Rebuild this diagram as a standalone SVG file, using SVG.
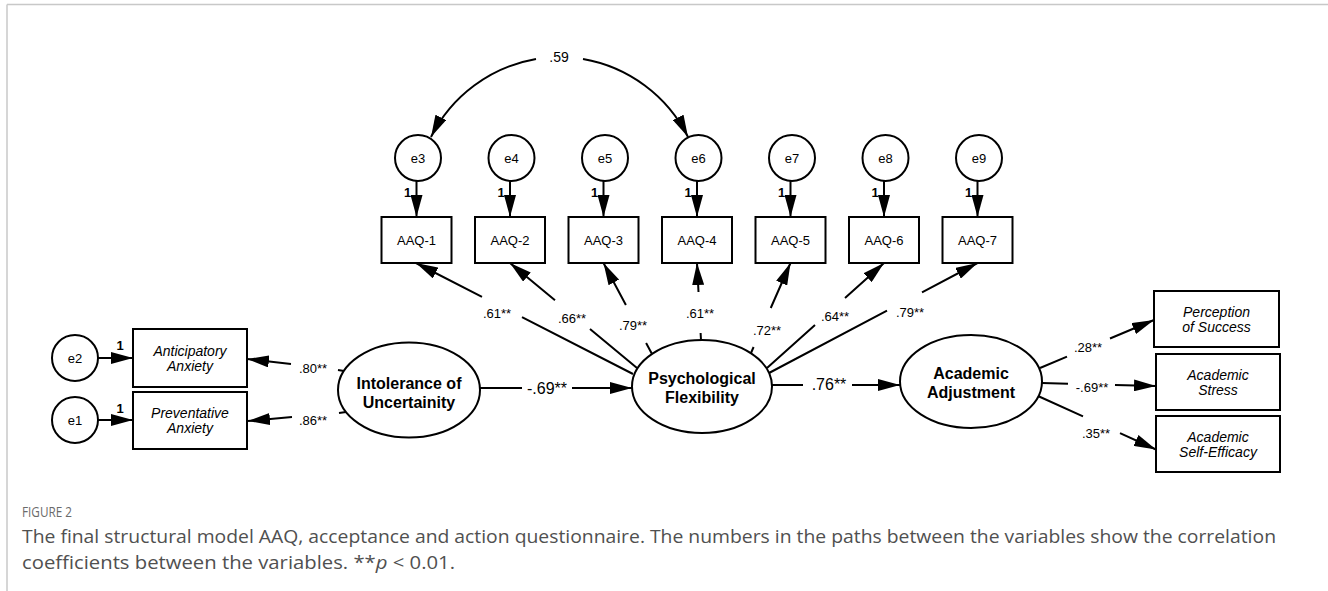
<svg xmlns="http://www.w3.org/2000/svg" width="1328" height="591" viewBox="0 0 1328 591">
<defs>
<marker id="ah" markerWidth="22" markerHeight="12" refX="22" refY="6" orient="auto" markerUnits="userSpaceOnUse"><path d="M0,0 L22,6 L0,12 Z" fill="#000"/></marker>
<style>
.node{fill:#fff;stroke:#000;stroke-width:2}
.ln{fill:none;stroke:#000;stroke-width:2}
.arr{fill:none;stroke:#000;stroke-width:2;marker-end:url(#ah)}
.t{font-family:"Liberation Sans",Arial,sans-serif;fill:#000;text-anchor:middle}
.e{font-size:13px}
.one{font-size:13px;font-weight:bold}
.box{font-size:13px}
.ind{font-size:14px;font-style:italic}
.lat{font-size:16px;font-weight:bold}
.lab{font-size:13px}
.slab{font-size:16px}
.cap{font-family:"Open Sans","Noto Sans",sans-serif;fill:#505050}
</style>
</defs>
<rect width="1328" height="591" fill="#fff"/>
<g id="frame" stroke="#c8c8c8" stroke-width="1.5" fill="none">
<line x1="7" y1="4.5" x2="1328" y2="4.5"/>
<line x1="7" y1="4.5" x2="7" y2="591"/>
</g>
<g id="connectors">
<path class="arr" d="M536,59 A145 145 0 0 0 431,137"/>
<path class="arr" d="M583,59 A145 145 0 0 1 688,137"/>
<path class="arr" d="M416.5,181 V217"/>
<path class="arr" d="M510,181 V217"/>
<path class="arr" d="M603.5,181 V217"/>
<path class="arr" d="M697,181 V217"/>
<path class="arr" d="M790.5,181 V217"/>
<path class="arr" d="M884,181 V217"/>
<path class="arr" d="M977.5,181 V217"/>
<path class="arr" d="M633,374 L522,317.2 M482,296.8 L416,263"/>
<path class="arr" d="M637,368 L590,329.1 M555,300.2 L510,263"/>
<path class="arr" d="M652,354 L646.1,343 M625.9,305 L603.5,263"/>
<path class="arr" d="M701,340 L700.6,333 M698.5,292 L697,263"/>
<path class="arr" d="M751,353 L753.6,347 M770.75,308 L790.5,263"/>
<path class="arr" d="M767,368 L815,325 M845,298 L884,263"/>
<path class="arr" d="M769,373 L887,310.7 M922,292.3 L977.5,263"/>
<path class="arr" d="M98,358 H133"/>
<path class="arr" d="M98,420 H133"/>
<path class="arr" d="M344,371 L338,370 M291,364 L247,359"/>
<path class="arr" d="M346,412 L339,413 M292,417 L248,421"/>
<path class="arr" d="M480,388 H522 M572,388 H632"/>
<path class="arr" d="M772,385 H803 M852,385 H900"/>
<path class="arr" d="M1040,368 L1067,356.6 M1110,338.5 L1154,320"/>
<path class="arr" d="M1042,383 L1068,383.7 M1115,384.9 L1156,386"/>
<path class="arr" d="M1038,396 L1083,416.4 M1120,433.2 L1156,449.5"/>
<text class="t e" x="559" y="62" style="font-size:14px">.59</text>
<text class="t one" x="407.5" y="197">1</text>
<text class="t one" x="501" y="197">1</text>
<text class="t one" x="594.5" y="197">1</text>
<text class="t one" x="688" y="197">1</text>
<text class="t one" x="781.5" y="197">1</text>
<text class="t one" x="875" y="197">1</text>
<text class="t one" x="968.5" y="197">1</text>
<text class="t one" x="120" y="350">1</text>
<text class="t one" x="120" y="413">1</text>
<text class="t lab" x="497" y="317.5">.61**</text>
<text class="t lab" x="572" y="322.5">.66**</text>
<text class="t lab" x="633" y="329.5">.79**</text>
<text class="t lab" x="700" y="317.5">.61**</text>
<text class="t lab" x="767" y="334.5">.72**</text>
<text class="t lab" x="835" y="321">.64**</text>
<text class="t lab" x="910" y="316.5">.79**</text>
<text class="t lab" x="313" y="372.5">.80**</text>
<text class="t lab" x="313" y="424.5">.86**</text>
<text class="t slab" x="547" y="394">-.69**</text>
<text class="t slab" x="829" y="390">.76**</text>
<text class="t lab" x="1088" y="351.5">.28**</text>
<text class="t lab" x="1092" y="391.5">-.69**</text>
<text class="t lab" x="1096" y="437.5">.35**</text>
</g>
<g id="e3"><circle class="node" cx="418" cy="158" r="23"/><text class="t e" x="418" y="162.5">e3</text></g>
<g id="e4"><circle class="node" cx="511.5" cy="158" r="23"/><text class="t e" x="511.5" y="162.5">e4</text></g>
<g id="e5"><circle class="node" cx="605" cy="158" r="23"/><text class="t e" x="605" y="162.5">e5</text></g>
<g id="e6"><circle class="node" cx="698.5" cy="158" r="23"/><text class="t e" x="698.5" y="162.5">e6</text></g>
<g id="e7"><circle class="node" cx="792" cy="158" r="23"/><text class="t e" x="792" y="162.5">e7</text></g>
<g id="e8"><circle class="node" cx="885.5" cy="158" r="23"/><text class="t e" x="885.5" y="162.5">e8</text></g>
<g id="e9"><circle class="node" cx="979" cy="158" r="23"/><text class="t e" x="979" y="162.5">e9</text></g>
<g id="aaq1"><rect class="node" x="381.5" y="217" width="70" height="46"/><text class="t box" x="416.5" y="244.5">AAQ-1</text></g>
<g id="aaq2"><rect class="node" x="475" y="217" width="70" height="46"/><text class="t box" x="510" y="244.5">AAQ-2</text></g>
<g id="aaq3"><rect class="node" x="568.5" y="217" width="70" height="46"/><text class="t box" x="603.5" y="244.5">AAQ-3</text></g>
<g id="aaq4"><rect class="node" x="662" y="217" width="70" height="46"/><text class="t box" x="697" y="244.5">AAQ-4</text></g>
<g id="aaq5"><rect class="node" x="755.5" y="217" width="70" height="46"/><text class="t box" x="790.5" y="244.5">AAQ-5</text></g>
<g id="aaq6"><rect class="node" x="849" y="217" width="70" height="46"/><text class="t box" x="884" y="244.5">AAQ-6</text></g>
<g id="aaq7"><rect class="node" x="942.5" y="217" width="70" height="46"/><text class="t box" x="977.5" y="244.5">AAQ-7</text></g>
<g id="e2"><circle class="node" cx="75" cy="358" r="23"/><text class="t e" x="75" y="362.5">e2</text></g>
<g id="e1"><circle class="node" cx="75" cy="420" r="23"/><text class="t e" x="75" y="424.5">e1</text></g>
<g id="anticipatory"><rect class="node" x="133" y="329" width="114" height="58"/><text class="t ind" x="190" y="355.5">Anticipatory</text><text class="t ind" x="190" y="370.5">Anxiety</text></g>
<g id="preventative"><rect class="node" x="133" y="392" width="114" height="57"/><text class="t ind" x="190" y="418">Preventative</text><text class="t ind" x="190" y="433">Anxiety</text></g>
<g id="iu"><ellipse class="node" cx="409" cy="390" rx="71" ry="47.5"/><text class="t lat" x="409" y="388.5">Intolerance of</text><text class="t lat" x="409" y="407.5">Uncertainity</text></g>
<g id="pf"><ellipse class="node" cx="702" cy="386.5" rx="70" ry="46.5"/><text class="t lat" x="702" y="384">Psychological</text><text class="t lat" x="702" y="403">Flexibility</text></g>
<g id="aa"><ellipse class="node" cx="971" cy="381.5" rx="71" ry="46.5"/><text class="t lat" x="971" y="379">Academic</text><text class="t lat" x="971" y="398">Adjustment</text></g>
<g id="perception"><rect class="node" x="1154" y="291" width="125" height="56"/><text class="t ind" x="1216.5" y="316.5">Perception</text><text class="t ind" x="1216.5" y="331.5">of Success</text></g>
<g id="stress"><rect class="node" x="1156" y="354" width="124" height="56"/><text class="t ind" x="1218" y="379.5">Academic</text><text class="t ind" x="1218" y="394.5">Stress</text></g>
<g id="selfefficacy"><rect class="node" x="1156" y="416" width="124" height="56"/><text class="t ind" x="1218" y="441.5">Academic</text><text class="t ind" x="1218" y="456.5">Self-Efficacy</text></g>
<g id="caption">
<text class="cap" x="22" y="517" textLength="50" lengthAdjust="spacingAndGlyphs" style="font-size:14px;fill:#6a6a6a">FIGURE 2</text>
<text class="cap" x="22" y="543" textLength="1254" lengthAdjust="spacingAndGlyphs" style="font-size:18px">The final structural model AAQ, acceptance and action questionnaire. The numbers in the paths between the variables show the correlation</text>
<text class="cap" x="22" y="569" textLength="433" lengthAdjust="spacingAndGlyphs" style="font-size:18px">coefficients between the variables. **<tspan font-style="italic">p</tspan> &lt; 0.01.</text>
</g>
</svg>
